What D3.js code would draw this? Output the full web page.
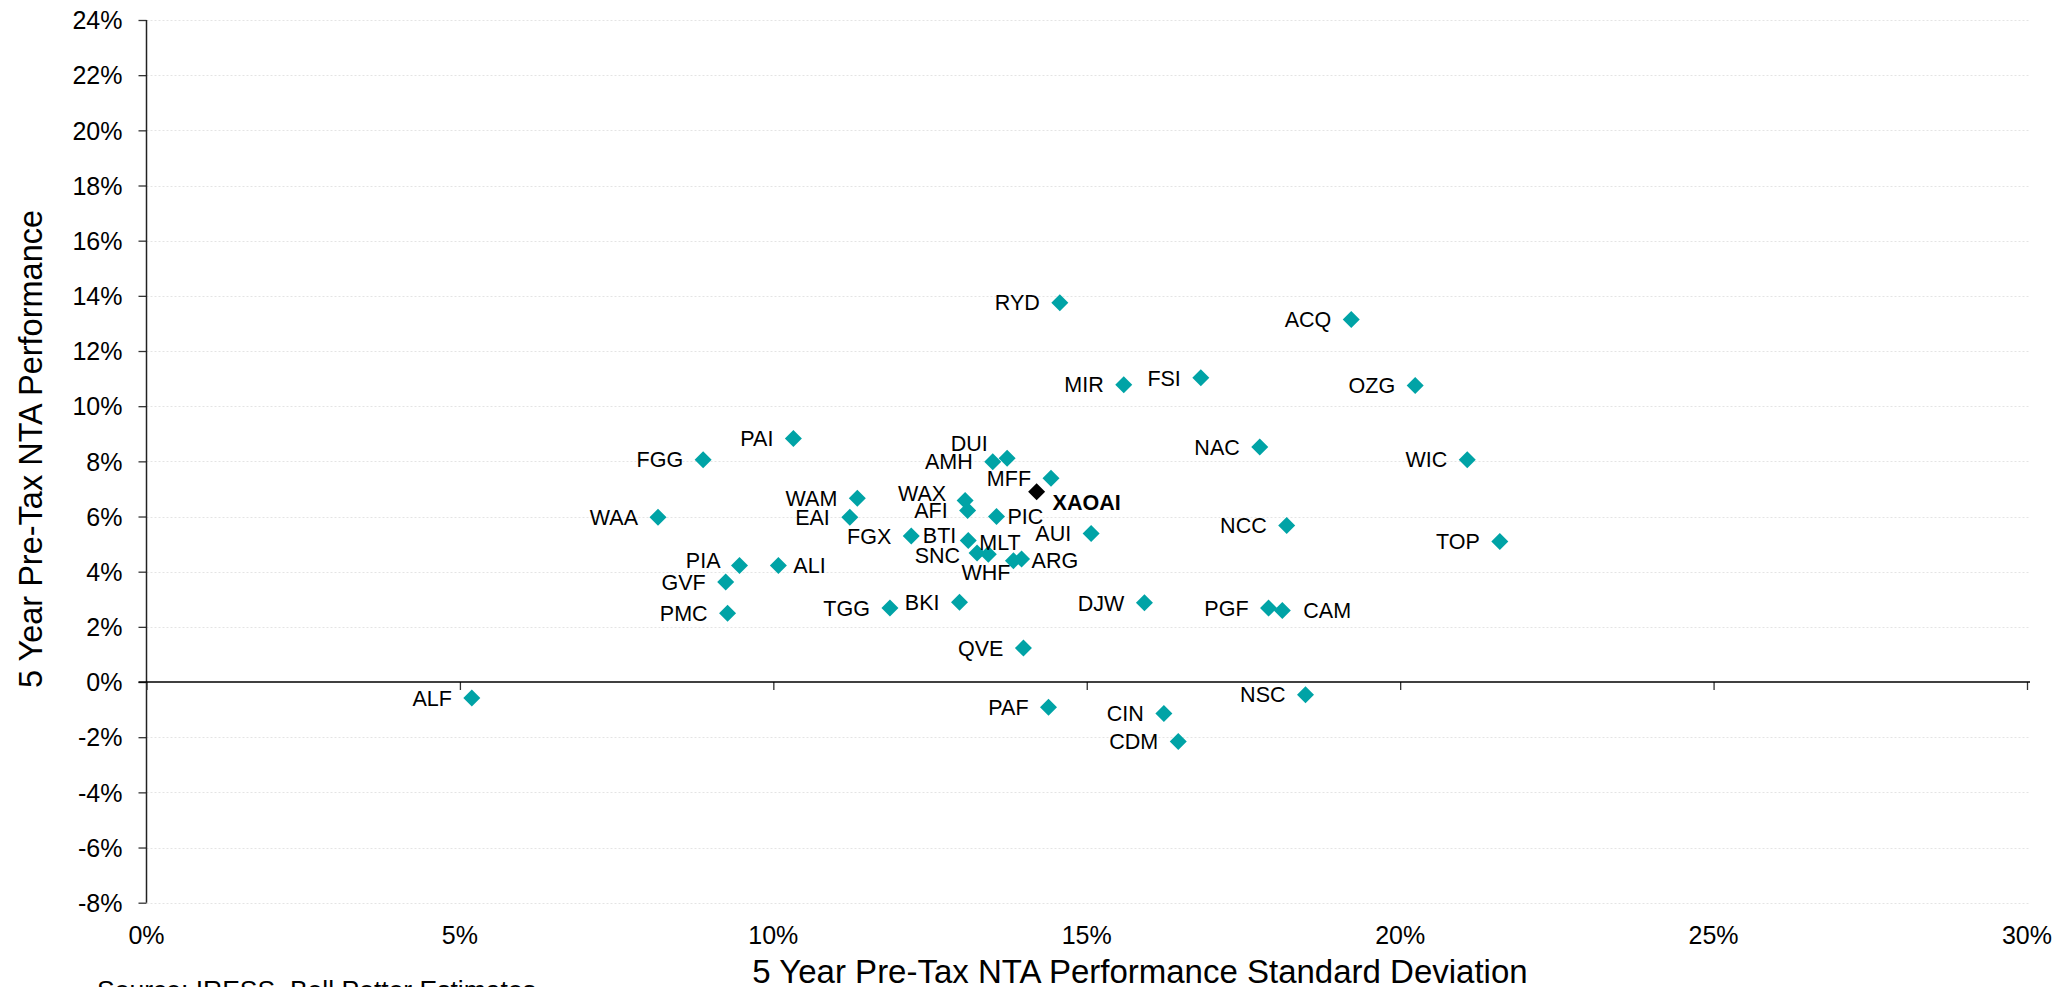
<!DOCTYPE html>
<html>
<head>
<meta charset="utf-8">
<script src="https://cdn.jsdelivr.net/npm/d3@7"></script>
<style>
  body { margin: 0; background: #fff; }
  svg text { font-family: "Liberation Sans", Arial, sans-serif; fill: #000; }
</style>
</head>
<body>
<div id="scatter"></div>
<script>
// data (values in %)
var funds = ["RYD","ACQ","FSI","MIR","OZG","PAI","NAC","FGG","DUI","AMH","WIC","MFF","XAOAI","WAM","WAX","AFI","PIC","WAA","EAI","NCC","AUI","FGX","BTI","TOP","SNC","MLT","ARG","WHF","PIA","ALI","GVF","DJW","BKI","TGG","PGF","CAM","PMC","QVE","NSC","ALF","PAF","CIN","CDM"];
var stdDev = [14.57,19.22,16.82,15.59,20.24,10.32,17.76,8.88,13.73,13.50,21.07,14.43,14.20,11.34,13.06,13.10,13.56,8.16,11.22,18.19,15.07,12.20,13.11,21.59,13.25,13.43,13.96,13.83,9.46,10.08,9.24,15.92,12.97,11.86,17.90,18.12,9.27,13.99,18.49,5.19,14.39,16.23,16.46];
var perf = [13.75,13.14,11.03,10.78,10.75,8.83,8.52,8.06,8.11,7.99,8.06,7.39,6.90,6.66,6.58,6.22,6.00,5.97,5.97,5.67,5.38,5.29,5.13,5.09,4.68,4.63,4.46,4.40,4.22,4.22,3.63,2.87,2.89,2.68,2.68,2.59,2.49,1.23,-0.46,-0.58,-0.91,-1.14,-2.16];
var benchmark = "XAOAI";

var xTicks = [0, 0.05, 0.10, 0.15, 0.20, 0.25, 0.30];
var yTicks = [-0.08, -0.06, -0.04, -0.02, 0, 0.02, 0.04, 0.06, 0.08, 0.10, 0.12, 0.14, 0.16, 0.18, 0.20, 0.22, 0.24];

// label placement tweaks: [anchor, dx, dy]; default is left of the marker
var labelPos = {
  DUI: ["middle", -38, -15],
  WAX: ["end", -19, -7],
  XAOAI: ["start", 16, 11],
  PIC: ["start", 11, 0],
  BTI: ["end", -12, -5],
  MLT: ["start", -9, -12],
  SNC: ["end", -17, 2],
  WHF: ["end", -3, 12],
  ARG: ["start", 10, 1],
  PIA: ["end", -19, -5],
  ALI: ["start", 15, 0],
  CAM: ["start", 21, 0]
};

var svgWidth = 2070;
var svgHeight = 987;

var svg = d3.select("#scatter")
  .append("svg")
  .attr("width", svgWidth)
  .attr("height", svgHeight);

svg.append("rect").attr("width", svgWidth).attr("height", svgHeight).attr("fill", "#fff");

var x = d3.scaleLinear().domain([0, 0.30]).range([146.5, 2027]);
var y = d3.scaleLinear().domain([-0.08, 0.24]).range([902.7, 20]);

// excel style labels use a plain hyphen for negatives
var pct = d => d3.format(".0%")(d).replace("\u2212", "-");

// gridlines
svg.append("g")
  .selectAll("line")
  .data(yTicks.filter(d => d !== 0))
  .enter()
  .append("line")
  .attr("x1", x(0))
  .attr("x2", 2030)
  .attr("y1", d => Math.round(y(d)) + 0.5)
  .attr("y2", d => Math.round(y(d)) + 0.5)
  .attr("stroke", "#e4e4e4")
  .attr("stroke-dasharray", "2,2");

// y axis
var leftAxis = d3.axisLeft(y).tickValues(yTicks).tickSize(8).tickPadding(16).tickFormat(pct);
var yAxis = svg.append("g")
  .attr("transform", `translate(${x(0)},0)`)
  .call(leftAxis);
yAxis.select(".domain").remove();
yAxis.selectAll("line").attr("stroke", "#333").attr("stroke-width", 1.3);
yAxis.selectAll("text").style("font-size", "25px").attr("dy", "0.35em");

svg.append("line")
  .attr("x1", x(0)).attr("x2", x(0))
  .attr("y1", y(0.24)).attr("y2", y(-0.08))
  .attr("stroke", "#222").attr("stroke-width", 1.5);

// x axis on the zero line, labels pushed to the bottom
var bottomAxis = d3.axisBottom(x).tickValues(xTicks).tickSize(8).tickFormat("");
var xAxis = svg.append("g")
  .attr("transform", `translate(0,${y(0)})`)
  .call(bottomAxis);
xAxis.select(".domain").remove();
xAxis.selectAll("line").attr("stroke", "#333").attr("stroke-width", 1.3);

svg.append("line")
  .attr("x1", x(0) - 8).attr("x2", 2030)
  .attr("y1", y(0)).attr("y2", y(0))
  .attr("stroke", "#000").attr("stroke-width", 1.5);

svg.append("g")
  .selectAll("text")
  .data(xTicks)
  .enter()
  .append("text")
  .attr("x", d => x(d))
  .attr("y", 944)
  .attr("text-anchor", "middle")
  .style("font-size", "25px")
  .text(d => pct(d));

// points
var diamond = "M0,-8.5L8.5,0L0,8.5L-8.5,0Z";

var points = svg.append("g")
  .selectAll("g")
  .data(funds)
  .enter()
  .append("g")
  .attr("transform", (d, i) => `translate(${x(stdDev[i] / 100)},${y(perf[i] / 100)})`);

points.append("path")
  .attr("d", diamond)
  .attr("fill", d => d === benchmark ? "#000" : "#00a3a6");

points.append("text")
  .attr("text-anchor", d => labelPos[d] ? labelPos[d][0] : "end")
  .attr("x", d => labelPos[d] ? labelPos[d][1] : -20)
  .attr("y", d => labelPos[d] ? labelPos[d][2] : 0)
  .attr("dy", "0.36em")
  .style("font-size", "21.5px")
  .style("font-weight", d => d === benchmark ? "bold" : "normal")
  .text(d => d);

// axis titles
svg.append("text")
  .attr("transform", "translate(42,449)rotate(-90)")
  .attr("text-anchor", "middle")
  .style("font-size", "32.5px")
  .text("5 Year Pre-Tax NTA Performance");

svg.append("text")
  .attr("x", 1140)
  .attr("y", 983)
  .attr("text-anchor", "middle")
  .style("font-size", "33px")
  .text("5 Year Pre-Tax NTA Performance Standard Deviation");

svg.append("text")
  .attr("x", 97)
  .attr("y", 999)
  .style("font-size", "26.5px")
  .text("Source: IRESS, Bell Potter Estimates");
</script>
</body>
</html>
